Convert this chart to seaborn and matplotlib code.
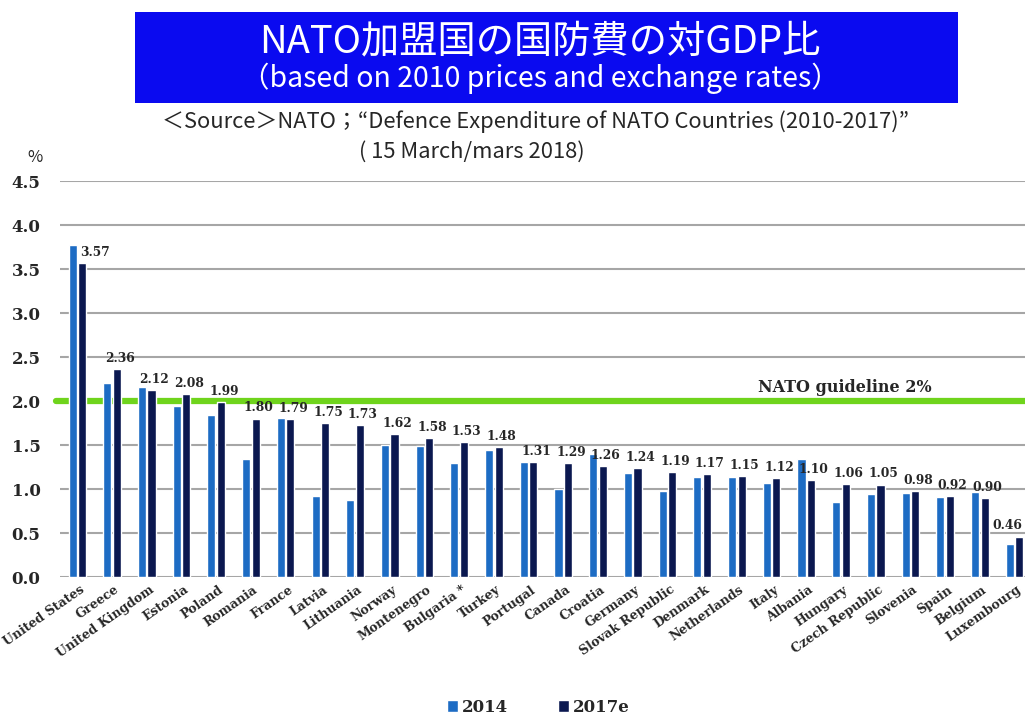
import numpy as np
import pandas as pd
import matplotlib
matplotlib.use("Agg")
import matplotlib.pyplot as plt
import matplotlib.patches as mpatches
import matplotlib.transforms as mtransforms
import seaborn as sns

# data
countries = ["United States", "Greece", "United Kingdom", "Estonia", "Poland", "Romania",
             "France", "Latvia", "Lithuania", "Norway", "Montenegro", "Bulgaria *", "Turkey",
             "Portugal", "Canada", "Croatia", "Germany", "Slovak Republic", "Denmark",
             "Netherlands", "Italy", "Albania", "Hungary", "Czech Republic", "Slovenia",
             "Spain", "Belgium", "Luxembourg"]
gdp_2014 = [3.77, 2.20, 2.16, 1.94, 1.84, 1.34, 1.81, 0.92, 0.88, 1.50, 1.49, 1.30, 1.44,
            1.31, 1.00, 1.40, 1.18, 0.98, 1.14, 1.14, 1.07, 1.34, 0.85, 0.94, 0.96,
            0.91, 0.97, 0.38]
gdp_2017 = [3.57, 2.36, 2.12, 2.08, 1.99, 1.80, 1.79, 1.75, 1.73, 1.62, 1.58, 1.53, 1.48,
            1.31, 1.29, 1.26, 1.24, 1.19, 1.17, 1.15, 1.12, 1.10, 1.06, 1.05, 0.98,
            0.92, 0.90, 0.46]
years = ["2014", "2017e"]
guideline = 2.0

df = pd.DataFrame({
    "country": countries * 2,
    "year": [years[0]] * len(countries) + [years[1]] * len(countries),
    "value": gdp_2014 + gdp_2017,
})

c2014 = "#1d6cc4"
c2017 = "#0b1850"
serif = "DejaVu Serif"
jp = ["Noto Sans CJK JP", "DejaVu Sans"]

sns.set_style("white")
fig = plt.figure(figsize=(10.25, 7.15), dpi=100)
ax = fig.add_axes([60 / 1025, 1 - 577 / 715, (1025 - 60) / 1025, (577 - 181) / 715])

sns.barplot(data=df, x="country", y="value", hue="year", order=countries,
            palette=[c2014, c2017], width=0.55, gap=0.15, ax=ax, legend=False,
            zorder=3, saturation=1)

ax.set_xlim(-0.5, 27.3)
ax.set_ylim(0, 4.5)
ax.set_yticks(np.arange(0, 4.51, 0.5))
ax.set_yticklabels([f"{t:.1f}" for t in np.arange(0, 4.51, 0.5)],
                   fontfamily=serif, fontweight="bold", fontsize=12)
ax.grid(axis="y", color="#a6a6a6", linewidth=1.5, zorder=0)
ax.tick_params(axis="y", length=0, pad=14)
ax.tick_params(axis="x", length=0, pad=3)
for s in ax.spines.values():
    s.set_visible(False)
ax.set_xlabel("")
ax.set_ylabel("")

ax.set_xticks(range(len(countries)))
ax.set_xticklabels(countries, rotation=35, ha="right", rotation_mode="anchor",
                   fontfamily=serif, fontweight="bold", fontsize=9)
shift = mtransforms.ScaledTranslation(2 / 100, -2 / 100, fig.dpi_scale_trans)
for lbl in ax.get_xticklabels():
    lbl.set_transform(lbl.get_transform() + shift)

# NATO 2% guideline
ax.axhline(guideline, color="#6fd41c", linewidth=4.5, zorder=2, xmin=-0.004, clip_on=False)
ax.text(22.1, guideline + 0.06, "NATO guideline 2%", ha="center", va="bottom",
        fontfamily=serif, fontweight="bold", fontsize=11.5, zorder=4)

# labels on the 2017e bars
for i, v in enumerate(gdp_2017):
    dx = 9 if i == 0 else (-9 if i == len(gdp_2017) - 1 else 2)
    ax.annotate(f"{v:.2f}", (i + 0.1375, v), xytext=(dx, 3), textcoords="offset points",
                ha="center", va="bottom", fontfamily=serif, fontweight="bold",
                fontsize=8.8, annotation_clip=False, zorder=5)

# title box
fig.patches.append(mpatches.Rectangle((135 / 1025, 1 - 103 / 715), (958 - 135) / 1025,
                                      91 / 715, transform=fig.transFigure,
                                      facecolor="#0a0af0", edgecolor="none"))
fig.text(540 / 1025, 1 - 42 / 715, "NATO加盟国の国防費の対GDP比", color="white",
         ha="center", va="center", fontsize=27.5, family=jp)
fig.text(540 / 1025, 1 - 78 / 715, "（based on 2010 prices and exchange rates）", color="white",
         ha="center", va="center", fontsize=20.5, family=jp)

fig.text(535 / 1025, 1 - 122 / 715,
         "＜Source＞NATO；“Defence Expenditure of NATO Countries (2010-2017)”",
         ha="center", va="center", fontsize=15.8, family=jp)
fig.text(472 / 1025, 1 - 152 / 715, "( 15 March/mars 2018)",
         ha="center", va="center", fontsize=15.8, family=jp)
fig.text(35 / 1025, 1 - 158 / 715, "%", ha="center", va="center", fontsize=12, family=jp)

handles = [mpatches.Patch(facecolor=c, label=y) for c, y in zip([c2014, c2017], years)]
fig.legend(handles=handles, loc="lower center", bbox_to_anchor=(0.525, -0.022), ncol=2,
           frameon=False, handlelength=0.7, handleheight=0.7, handletextpad=0.2,
           columnspacing=3, prop={"family": serif, "weight": "bold", "size": 12})

fig.savefig("out.png", dpi=100)
